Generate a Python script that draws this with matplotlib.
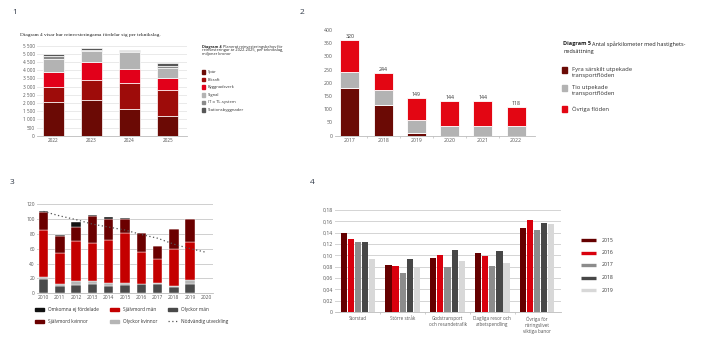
import matplotlib
matplotlib.use("Agg")
import matplotlib.pyplot as plt
from matplotlib.patches import Rectangle
from matplotlib.lines import Line2D
from matplotlib.ticker import FuncFormatter
import numpy as np

plt.rcParams['font.family'] = ['Open Sans', 'DejaVu Sans']

# ---------------- data ----------------
# Panel 1
p1_years = ['2022', '2023', '2024', '2025']
p1_series = ['Spår', 'Elkraft', 'Byggnadsverk', 'Signal', 'IT o TL-system', 'Stationsbyggnader']
p1_spar = [2080, 2175, 1660, 1200]
p1_elkraft = [915, 1210, 1540, 1590]
p1_bygg = [875, 1090, 860, 715]
p1_signal = [815, 680, 1030, 650]
p1_it = [185, 100, 100, 105]
p1_station = [100, 105, 65, 200]
p1_colors = ['#6b0a05', '#9e0c0a', '#e2001a', '#b3b3b3', '#8a8a8a', '#575757']

# Panel 2
p2_years = ['2017', '2018', '2019', '2020', '2021', '2022']
p2_fyra = [179, 116, 9, 0, 0, 0]
p2_tio = [61, 56, 50, 37, 37, 37]
p2_ovriga = [122, 64, 85, 95, 95, 70]
p2_totals = ['320', '244', '149', '144', '144', '118']
p2_series = ['Fyra särskilt utpekade\ntransportflöden', 'Tio utpekade\ntransportflöden', 'Övriga flöden']
p2_colors = ['#6b0a05', '#b3b3b3', '#e30613']

# Panel 3
p3_years = [2010, 2011, 2012, 2013, 2014, 2015, 2016, 2017, 2018, 2019, 2020]
p3_olyckor_man = [19, 10, 11, 12, 10, 11, 12, 12, 9, 13, 0]
p3_olyckor_kvinnor = [3.5, 3, 5, 4.5, 3.5, 3.5, 0.5, 2.5, 0.5, 4.5, 0]
p3_sjalvmord_man = [62, 41, 54, 51, 58, 66, 43.5, 31, 50, 51.5, 0]
p3_sjalvmord_kvinnor = [24.5, 23, 19, 36, 28, 20, 25, 17.5, 27.5, 30.5, 0]
p3_omkomna = [2, 1, 7, 2, 2.5, 1, 0.5, 0.5, 0, 0, 0]
p3_nodvandig = [110, 104, 99, 93, 89, 85, 79, 74, 66, 60, 55]

# Panel 4
p4_categories = ['Storstad', 'Större stråk', 'Godstransport\noch resandetrafik',
                 'Dagliga resor och\narbetspendling', 'Övriga för\nnäringslivet\nviktiga banor']
p4_years = ['2015', '2016', '2017', '2018', '2019']
p4_values = {
    '2015': [0.140, 0.083, 0.096, 0.105, 0.148],
    '2016': [0.129, 0.081, 0.100, 0.098, 0.162],
    '2017': [0.124, 0.068, 0.080, 0.082, 0.144],
    '2018': [0.123, 0.094, 0.109, 0.107, 0.157],
    '2019': [0.093, 0.077, 0.090, 0.086, 0.156],
}
p4_colors = ['#650000', '#d9000d', '#8c8c8c', '#474747', '#d8d8d8']

# ---------------- figure ----------------
W, H = 720, 360
fig = plt.figure(figsize=(7.2, 3.6), dpi=100)
renderer = fig.canvas.get_renderer()


def fx(x):
    return x / W


def fy(y):
    return 1 - y / H


def axes_px(l, t, r, b):
    return fig.add_axes([fx(l), fy(b), (r - l) / W, (b - t) / H])


def bold_then_regular(x, y, bold, regular, size):
    t = fig.text(fx(x), fy(y), bold, fontsize=size, weight='bold', color='#222222', va='center')
    w = t.get_window_extent(renderer=renderer).width
    fig.text(fx(x + w + 1.5), fy(y), regular, fontsize=size, color='#222222', va='center')


def clean(ax):
    for s in ['top', 'right', 'left']:
        ax.spines[s].set_visible(False)
    ax.spines['bottom'].set_color('#bbbbbb')
    ax.spines['bottom'].set_linewidth(0.6)
    ax.tick_params(axis='y', length=0, colors='#555555')
    ax.tick_params(axis='x', length=0, colors='#555555')


numcol = '#333c4a'
fig.text(fx(12), fy(12), '1', fontsize=6, color=numcol, va='center')
fig.text(fx(300), fy(12), '2', fontsize=6, color=numcol, va='center')
fig.text(fx(10), fy(183), '3', fontsize=6, color=numcol, va='center')
fig.text(fx(310), fy(183), '4', fontsize=6, color=numcol, va='center')

# ---------------- panel 1 ----------------
ax1 = axes_px(37, 45.7, 187, 135.7)
x1 = np.arange(len(p1_years))
bottom = np.zeros(len(p1_years))
for vals, col in zip([p1_spar, p1_elkraft, p1_bygg, p1_signal, p1_it, p1_station], p1_colors):
    ax1.bar(x1, vals, 0.55, bottom=bottom, color=col, edgecolor='white', linewidth=0.5, zorder=3)
    bottom += np.array(vals)
ax1.set_ylim(0, 5500)
ax1.set_yticks(np.arange(0, 5501, 500))
ax1.yaxis.set_major_formatter(FuncFormatter(lambda v, p: f'{int(v):,}'.replace(',', ' ')))
ax1.set_xlim(-0.42, 3.5)
ax1.set_xticks(x1)
ax1.set_xticklabels(p1_years)
ax1.grid(axis='y', color='#e6e6e6', linewidth=0.6, zorder=0)
clean(ax1)
ax1.tick_params(labelsize=3.4, pad=1.5)

fig.text(fx(20), fy(35), 'Diagram 4 visar hur reinvesteringarna fördelar sig per teknikslag.',
         fontsize=3.9, family=['Liberation Serif'], color='#222222', va='center')
bold_then_regular(202, 47, 'Diagram 4', 'Planerat reinvesteringsbehov för', 2.8)
fig.text(fx(202), fy(50.5), 'reinvesteringar år 2022-2025, per teknikslag,', fontsize=2.8, color='#222222', va='center')
fig.text(fx(202), fy(54), 'miljoner kronor', fontsize=2.8, color='#222222', va='center')
for i, (name, col) in enumerate(zip(p1_series, p1_colors)):
    y = 72 + i * 7.6
    fig.patches.append(Rectangle((fx(201.5), fy(y + 1.8)), 3.6 / W, 3.6 / H, color=col, transform=fig.transFigure))
    fig.text(fx(208), fy(y), name, fontsize=3.0, color='#333333', va='center')

# ---------------- panel 2 ----------------
ax2 = axes_px(335, 30, 535, 135.7)
x2 = np.arange(len(p2_years))
bottom = np.zeros(len(p2_years))
for vals, col in zip([p2_fyra, p2_tio, p2_ovriga], p2_colors):
    ax2.bar(x2, vals, 0.57, bottom=bottom, color=col, edgecolor='white', linewidth=0.6, zorder=3)
    bottom += np.array(vals)
for xi, tot, lab in zip(x2, bottom, p2_totals):
    ax2.text(xi, tot + 4, lab, ha='center', va='bottom', fontsize=3.8, color='#333333')
ax2.set_ylim(0, 400)
ax2.set_yticks(np.arange(0, 401, 50))
ax2.set_xlim(-0.45, 5.57)
ax2.set_xticks(x2)
ax2.set_xticklabels(p2_years)
clean(ax2)
ax2.tick_params(labelsize=3.7, pad=1.5)
ax2.set_xticks(x2[:-1] + 0.5, minor=True)
ax2.tick_params(axis='x', which='minor', length=1.5, color='#bbbbbb', width=0.5)

bold_then_regular(563, 44, 'Diagram 5', 'Antal spårkilometer med hastighets-', 4.0)
fig.text(fx(563), fy(51.5), 'nedsättning', fontsize=4.0, color='#222222', va='center')
p2_leg_y = [70, 88, 109]
for name, col, y in zip(p2_series, p2_colors, p2_leg_y):
    fig.patches.append(Rectangle((fx(562), fy(y + 2.7)), 5.4 / W, 5.4 / H, color=col, transform=fig.transFigure))
    fig.text(fx(572), fy(y - 2.8), name, fontsize=4.2, color='#333333', va='top', linespacing=1.25)

# ---------------- panel 3 ----------------
ax3 = axes_px(37, 204, 213, 293.3)
x3 = np.array(p3_years)
bottom = np.zeros(len(p3_years))
p3_cols = ['#4a4a4a', '#b5b5b5', '#c40000', '#6b0000', '#111111']
for vals, col in zip([p3_olyckor_man, p3_olyckor_kvinnor, p3_sjalvmord_man, p3_sjalvmord_kvinnor, p3_omkomna], p3_cols):
    ax3.bar(x3, vals, 0.58, bottom=bottom, color=col, edgecolor='white', linewidth=0.3, zorder=3)
    bottom += np.array(vals)
ax3.plot(x3, p3_nodvandig, linestyle=(0, (1, 2)), color='#555555', linewidth=0.9, zorder=4)
ax3.set_ylim(0, 120)
ax3.set_yticks(np.arange(0, 121, 20))
ax3.set_xlim(2009.6, 2020.4)
ax3.set_xticks(x3)
ax3.grid(axis='y', color='#cfcfcf', linewidth=0.7, zorder=0)
clean(ax3)
ax3.tick_params(labelsize=3.5, pad=1.5)

p3_leg = [
    ('Omkomna ej fördelade', '#111111', 35, 309, 'patch'),
    ('Självmord män', '#c40000', 110, 309, 'patch'),
    ('Olyckor män', '#4a4a4a', 168, 309, 'patch'),
    ('Självmord kvinnor', '#6b0000', 35, 321, 'patch'),
    ('Olyckor kvinnor', '#b5b5b5', 110, 321, 'patch'),
    ('Nödvändig utveckling', '#555555', 168, 321, 'line'),
]
for name, col, x, y, kind in p3_leg:
    if kind == 'patch':
        fig.patches.append(Rectangle((fx(x), fy(y + 1.5)), 9 / W, 3 / H, color=col, transform=fig.transFigure))
    else:
        fig.lines.append(Line2D([fx(x), fx(x + 9)], [fy(y), fy(y)], linestyle=(0, (1, 2)), color=col,
                                linewidth=0.9, transform=fig.transFigure))
    fig.text(fx(x + 13), fy(y), name, fontsize=3.4, color='#333333', va='center')

# ---------------- panel 4 ----------------
ax4 = axes_px(335, 210, 561, 312)
x4 = np.arange(len(p4_categories))
bw = 0.16
for i, (yr, col) in enumerate(zip(p4_years, p4_colors)):
    ax4.bar(x4 + (i - 2) * bw, p4_values[yr], bw * 0.88, color=col, zorder=3)
ax4.set_ylim(0, 0.18)
ax4.set_yticks(np.arange(0, 0.181, 0.02))
ax4.yaxis.set_major_formatter(FuncFormatter(lambda v, p: '0' if abs(v) < 1e-9 else f'{v:.2f}'.replace('.', ',')))
ax4.set_xlim(-0.514, 4.536)
ax4.set_xticks(x4)
ax4.set_xticklabels(p4_categories, linespacing=1.3)
ax4.grid(axis='y', color='#d4d4d4', linewidth=0.7, zorder=0)
clean(ax4)
ax4.tick_params(axis='y', labelsize=3.7, pad=1.5)
ax4.tick_params(axis='x', labelsize=3.3, pad=3)
ax4.set_xticks(x4[:-1] + 0.5, minor=True)
ax4.tick_params(axis='x', which='minor', length=1.5, color='#bbbbbb', width=0.5)

for i, (yr, col) in enumerate(zip(p4_years, p4_colors)):
    y = 240 + i * 12.5
    fig.lines.append(Line2D([fx(581), fx(596)], [fy(y), fy(y)], color=col, linewidth=2.4,
                            solid_capstyle='butt', transform=fig.transFigure))
    fig.text(fx(602), fy(y), yr, fontsize=3.7, color='#333333', va='center')

fig.savefig('out.png', dpi=100)
